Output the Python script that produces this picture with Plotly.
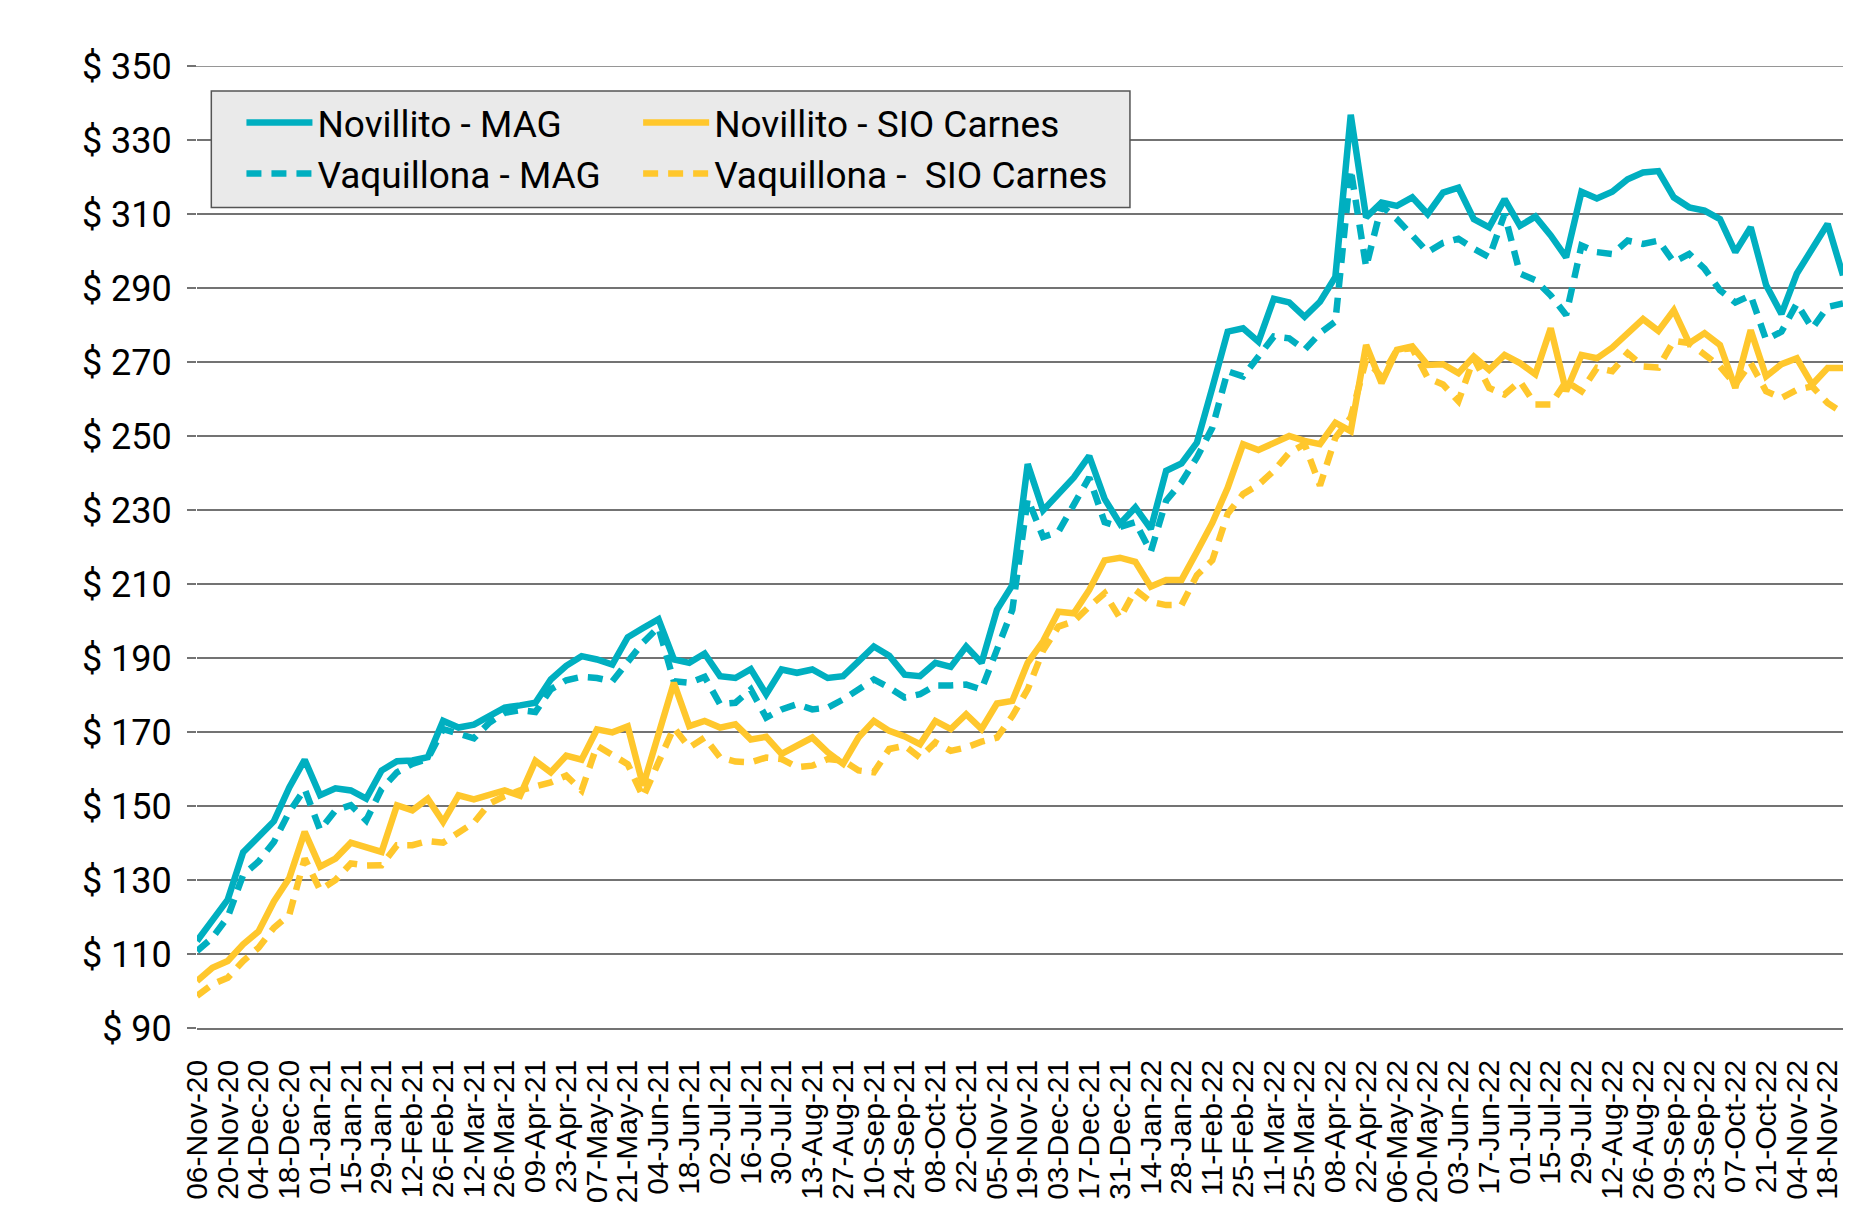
import pandas as pd
import plotly.graph_objects as go

# ---- data ----
dates = [d.strftime("%d-%b-%y") for d in pd.date_range("2020-11-06", periods=108, freq="7D")]
tick_labels = dates[::2]

novillito_mag = [113.5, 118.8, 124.7, 137.5, 141.5, 145.9, 155.0, 162.5, 152.9, 154.8,
                 154.2, 152.0, 159.6, 162.1, 162.3, 163.2, 173.0, 171.2, 172.0, 174.2,
                 176.6, 177.2, 177.9, 184.2, 187.9, 190.5, 189.6, 188.2, 195.6, 198.1,
                 200.5, 189.6, 188.7, 191.2, 185.1, 184.6, 187.0, 180.2, 186.9, 186.0,
                 186.9, 184.6, 185.1, 189.1, 193.1, 190.6, 185.5, 185.1, 188.7, 187.6,
                 193.1, 188.7, 203.0, 209.7, 242.4, 229.9, 234.3, 238.8, 244.6, 233.0,
                 226.3, 230.7, 224.9, 240.6, 242.6, 248.2, 263.0, 278.2, 279.1, 275.5,
                 287.1, 286.1, 282.2, 286.3, 293.0, 336.8, 309.1, 313.1, 312.2, 314.5,
                 310.0, 315.8, 317.1, 308.6, 306.4, 314.0, 306.8, 309.3, 304.2, 298.3,
                 316.0, 314.2, 316.0, 319.4, 321.2, 321.6, 314.5, 311.8, 310.9, 308.6,
                 299.7, 306.4, 290.8, 283.0, 293.9, 300.4, 307.3, 293.4]

vaquillona_mag = [110.8, 114.4, 120.0, 131.4, 135.0, 140.3, 148.4, 154.6, 143.5, 148.8,
                  150.2, 146.1, 154.6, 159.1, 161.4, 162.7, 170.8, 169.4, 168.3, 172.5,
                  175.2, 175.9, 175.4, 181.5, 184.0, 184.9, 184.6, 183.7, 188.7, 194.2,
                  198.3, 183.7, 183.3, 184.9, 177.5, 177.9, 181.5, 173.9, 176.1, 177.5,
                  176.1, 176.6, 178.8, 181.5, 184.2, 182.0, 179.3, 180.2, 182.6, 182.6,
                  182.8, 181.5, 192.2, 203.0, 233.0, 222.7, 224.1, 231.6, 238.8, 226.7,
                  225.4, 226.7, 218.7, 232.5, 237.5, 244.2, 252.2, 267.5, 266.1, 271.5,
                  276.9, 276.4, 273.3, 277.8, 280.9, 322.1, 295.7, 312.2, 308.6, 304.2,
                  299.7, 302.2, 303.3, 300.6, 298.3, 310.0, 293.9, 292.1, 288.0, 282.7,
                  301.5, 299.7, 299.2, 302.8, 301.9, 302.8, 297.0, 299.2, 295.2, 289.4,
                  286.1, 288.0, 276.0, 278.2, 285.8, 279.1, 284.9, 285.8]

novillito_sio = [102.7, 106.3, 108.1, 112.6, 116.1, 124.2, 130.5, 143.0, 133.6, 135.8,
                 140.1, 139.0, 137.6, 150.2, 148.8, 152.0, 145.7, 152.9, 151.8, 153.0,
                 154.2, 152.8, 162.2, 159.1, 163.6, 162.5, 170.7, 169.9, 171.5, 155.5,
                 170.0, 183.3, 171.6, 173.0, 171.2, 172.1, 168.0, 168.7, 164.1, 166.3,
                 168.5, 164.5, 161.4, 168.5, 173.0, 170.3, 168.8, 166.7, 173.0, 170.8,
                 174.8, 170.8, 177.7, 178.4, 188.7, 194.5, 202.5, 202.1, 208.4, 216.4,
                 217.1, 216.0, 209.3, 211.1, 211.1, 218.7, 226.5, 236.0, 247.8, 246.2,
                 248.2, 250.0, 248.7, 247.8, 253.6, 251.3, 274.6, 264.3, 273.3, 274.2,
                 269.2, 269.4, 267.0, 271.5, 267.9, 271.9, 269.7, 266.7, 279.1, 262.1,
                 271.9, 271.0, 273.9, 278.0, 281.6, 278.4, 284.0, 275.1, 277.8, 274.6,
                 263.0, 278.6, 266.1, 269.4, 271.0, 263.9, 268.4, 268.4]

vaquillona_sio = [98.7, 101.8, 103.6, 108.1, 111.7, 117.1, 120.6, 135.8, 127.3, 130.0,
                  134.5, 133.9, 134.0, 139.4, 139.4, 140.5, 140.1, 142.6, 145.5, 150.6,
                  152.7, 154.2, 155.5, 156.4, 158.2, 154.2, 166.3, 164.0, 161.3, 152.4,
                  161.8, 171.2, 165.8, 168.5, 163.1, 162.0, 161.8, 163.1, 162.7, 160.5,
                  160.9, 162.7, 162.3, 159.6, 159.1, 165.4, 166.3, 163.1, 167.2, 164.9,
                  165.8, 167.4, 168.5, 174.3, 181.5, 192.0, 198.5, 199.9, 203.9, 207.5,
                  200.8, 208.4, 205.2, 204.3, 204.3, 212.4, 216.4, 229.0, 234.3, 236.8,
                  240.6, 245.5, 247.8, 236.6, 249.5, 255.0, 270.6, 266.0, 273.3, 273.7,
                  265.7, 263.9, 259.4, 271.0, 263.0, 261.2, 264.8, 258.5, 258.5, 264.8,
                  262.1, 268.4, 267.5, 272.4, 268.8, 268.5, 275.7, 275.1, 272.0, 268.8,
                  263.9, 269.7, 262.1, 260.3, 262.5, 263.4, 258.9, 256.2]

y_min, y_max = 90, 350

TEAL = "#00AFC0"
YELLOW = "#FFC72C"
GRID = "#737373"
LW = 6.5

fig = go.Figure()
fig.add_trace(go.Scatter(x=dates, y=novillito_mag, mode="lines", name="Novillito - MAG",
                         line=dict(color=TEAL, width=LW), legend="legend"))
fig.add_trace(go.Scatter(x=dates, y=vaquillona_mag, mode="lines", name="Vaquillona - MAG",
                         line=dict(color=TEAL, width=LW, dash="15px,10px"), legend="legend"))
fig.add_trace(go.Scatter(x=dates, y=novillito_sio, mode="lines", name="Novillito - SIO Carnes",
                         line=dict(color=YELLOW, width=LW), legend="legend2"))
fig.add_trace(go.Scatter(x=dates, y=vaquillona_sio, mode="lines", name="Vaquillona -  SIO Carnes",
                         line=dict(color=YELLOW, width=LW, dash="15px,10px"), legend="legend2"))

legend_common = dict(
    font=dict(family="Roboto", size=37, color="black"),
    bgcolor="rgba(0,0,0,0)", borderwidth=0, orientation="v",
    itemwidth=66, xanchor="left", yanchor="top", traceorder="normal",
)

fig.update_layout(
    width=1869, height=1215,
    margin=dict(l=197, r=26, t=66, b=182),
    paper_bgcolor="white", plot_bgcolor="white",
    showlegend=True,
    legend=dict(x=0.027, y=0.973, **legend_common),
    legend2=dict(x=0.268, y=0.973, **legend_common),
    shapes=[
        dict(type="line", xref="paper", yref="y", x0=-0.0055, x1=1, y0=y_max, y1=y_max,
             line=dict(color=GRID, width=1.5), layer="below"),
        dict(type="rect", xref="paper", yref="paper",
             x0=0.0087, x1=0.5668, y0=0.853, y1=0.974,
             fillcolor="#EAEAEA", line=dict(color="#555555", width=1.5),
             layer="above"),
    ],
    xaxis=dict(
        type="category", categoryorder="array", categoryarray=dates,
        range=[0, 107], tickmode="array", tickvals=tick_labels, ticktext=tick_labels,
        tickangle=-90, tickfont=dict(family="Liberation Sans", size=30, color="black"),
        showgrid=False, showline=True, linecolor=GRID, linewidth=1.5,
        ticks="", ticklabelstandoff=18, zeroline=False,
    ),
    yaxis=dict(
        range=[y_min, y_max], tick0=90, dtick=20, tickprefix="$ ",
        tickfont=dict(family="Roboto", size=36, color="black"),
        showgrid=True, gridcolor=GRID, gridwidth=1.5,
        ticks="outside", ticklen=9, tickcolor=GRID, tickwidth=1.5,
        ticklabelstandoff=8, zeroline=False, showline=False,
    ),
)

fig.write_html("out.html", config={"displayModeBar": False},
               post_script="document.body.style.margin='0';document.body.style.overflow='hidden';")
